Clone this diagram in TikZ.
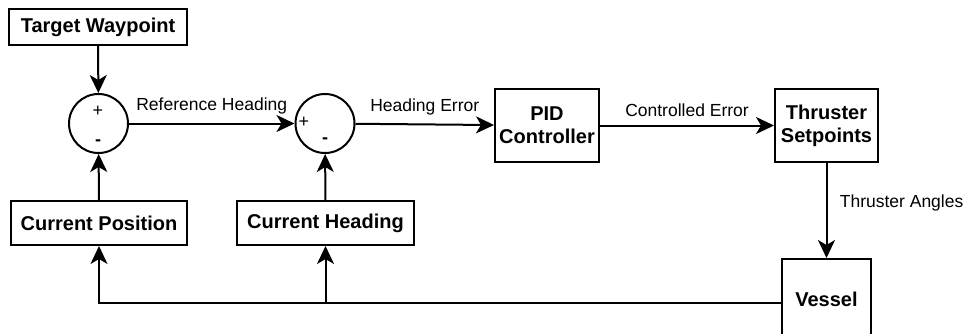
\documentclass[tikz,border=0pt]{standalone}
\usepackage{fontspec}
\setmainfont{Liberation Sans}
\usetikzlibrary{arrows.meta}

\begin{document}
\begin{tikzpicture}[>={Stealth[length=18pt,width=17pt,inset=5pt]}, x=1pt, y=-1pt, line width=2pt,
    block/.style={draw, align=center, inner sep=0pt, font=\bfseries\fontsize{20}{23}\selectfont},
    sumnode/.style={draw, circle, minimum size=59pt, inner sep=0pt},
    lbl/.style={font=\fontsize{17.5}{20}\selectfont},
    sign/.style={inner sep=0pt, font=\fontsize{18}{20}\selectfont}]
    \useasboundingbox (0, 0) rectangle (963, 333);

    % blocks
    \node[block, minimum width=178pt, minimum height=36pt] (target) at (98, 27) {Target Waypoint};
    \node[block, minimum width=176pt, minimum height=44pt] (pos) at (99, 223) {Current Position};
    \node[block, minimum width=177pt, minimum height=44pt] (head) at (325.5, 223) {Current Heading};
    \node[block, minimum width=104pt, minimum height=73pt] (pid) at (547, 125.5) {PID\\Controller};
    \node[block, minimum width=103pt, minimum height=73pt] (thr) at (826.5, 125.5) {Thruster\\Setpoints};
    \node[block, minimum width=89pt, minimum height=80pt] (vessel) at (826.5, 299) {Vessel};

    % summing junctions
    \node[sumnode] (sumpos) at (98.5, 123.5) {};
    \node[sumnode] (sumhead) at (325, 123.5) {};
    \node[sign] (pplus) at (98, 111) {+};
    \node[sign] (pminus) at (98, 143) {\textbf{-}};
    \node[sign] (hplus) at (304, 122) {+};
    \node[sign] (hminus) at (325, 141) {\textbf{-}};

    % forward path
    \draw[->] (target) -- (sumpos);
    \draw[->] (sumpos) -- node[lbl, midway, above=5pt] {Reference Heading} (sumhead);
    \draw[->] (sumhead) -- node[lbl, midway, above=5pt] {Heading Error} (pid);
    \draw[->] (pid) -- node[lbl, midway, above=5pt] {Controlled Error} (thr);
    \draw[->] (thr) -- node[lbl, pos=0.42, right=9pt] {Thruster Angles} (vessel);

    % feedback
    \coordinate (fb) at ([yshift=-4pt]vessel.west);
    \draw[->] (fb) -| (pos.south);
    \draw[->] (head.south |- fb) -- (head.south);
    \draw[->] (pos) -- (sumpos);
    \draw[->] (head) -- (sumhead);
\end{tikzpicture}
\end{document}
